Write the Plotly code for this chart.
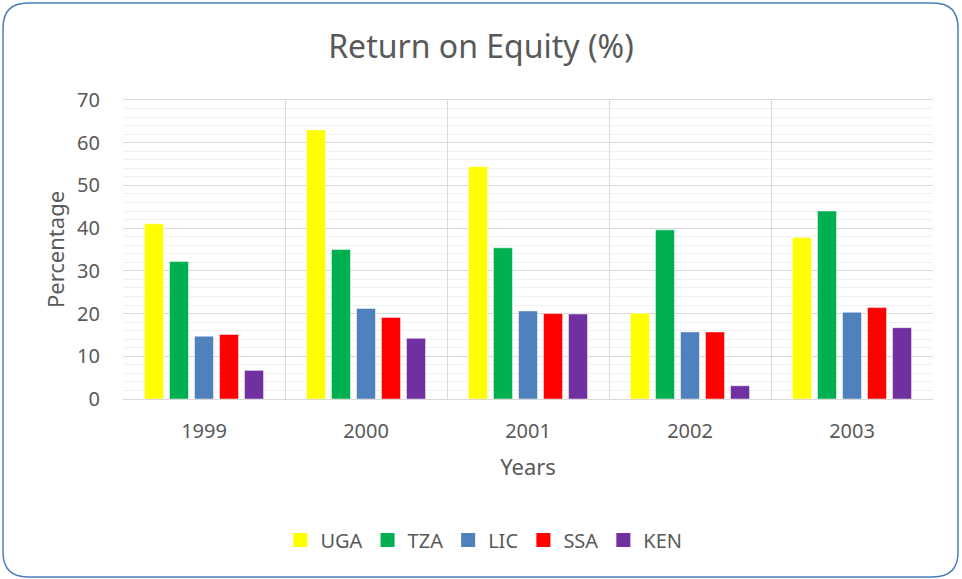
import plotly.graph_objects as go

years = ["1999", "2000", "2001", "2002", "2003"]
UGA = [41.0, 63.0, 54.4, 20.1, 37.8]
TZA = [32.2, 35.0, 35.4, 39.6, 44.0]
LIC = [14.7, 21.2, 20.6, 15.7, 20.3]
SSA = [15.1, 19.1, 20.0, 15.7, 21.4]
KEN = [6.7, 14.2, 19.9, 3.1, 16.7]

series = [("UGA", UGA, "#FFFF00"), ("TZA", TZA, "#00B050"), ("LIC", LIC, "#4F81BD"),
          ("SSA", SSA, "#FF0000"), ("KEN", KEN, "#7030A0")]

W, H = 962, 579
L, R, T, B = 123, 933, 100, 399
FONT = "Noto Sans"
TXT = "#595959"

fig = go.Figure()
for name, vals, col in series:
    fig.add_trace(go.Bar(x=years, y=vals, name=name, marker_color=col, showlegend=False,
                         legendgroup=name,
                         marker_line=dict(width=0.8, color="rgba(255,255,255,0.6)")))
# legend entries with larger square swatches
for name, vals, col in series:
    fig.add_trace(go.Scatter(x=[None], y=[None], mode="markers", name=name,
                             legendgroup=name,
                             marker=dict(symbol="square", size=14, color=col)))

# rounded outer border (in paper coordinates)
def px(x):
    return (x - L) / (R - L)

def py(y):
    return (B - y) / (B - T)

x0, x1, y0, y1, r = 3, 958, 3, 577, 25
path = (f"M {px(x0 + r)} {py(y0)} L {px(x1 - r)} {py(y0)} "
        f"Q {px(x1)} {py(y0)} {px(x1)} {py(y0 + r)} "
        f"L {px(x1)} {py(y1 - r)} Q {px(x1)} {py(y1)} {px(x1 - r)} {py(y1)} "
        f"L {px(x0 + r)} {py(y1)} Q {px(x0)} {py(y1)} {px(x0)} {py(y1 - r)} "
        f"L {px(x0)} {py(y0 + r)} Q {px(x0)} {py(y0)} {px(x0 + r)} {py(y0)} Z")
fig.add_shape(type="path", path=path, xref="paper", yref="paper",
              line=dict(color="#4A7EBB", width=1.5), layer="below")

fig.update_layout(
    width=W, height=H,
    margin=dict(l=L, r=W - R, t=T, b=H - B),
    paper_bgcolor="white", plot_bgcolor="white",
    font=dict(family=FONT, color=TXT),
    barmode="group", bargap=0.228, bargroupgap=0.24,
    title=dict(text="Return on Equity (%)", x=0.5, xanchor="center",
               xref="container", yref="container", y=1 - 47 / H, yanchor="middle",
               font=dict(size=32, color=TXT)),
    legend=dict(orientation="h", xref="container", yref="container",
                x=0.503, xanchor="center", y=1 - 540 / H, yanchor="middle",
                font=dict(size=20, color=TXT), itemwidth=30),
    showlegend=True,
)
fig.update_xaxes(type="category", tickson="boundaries", showgrid=True,
                 gridcolor="#D9D9D9", gridwidth=1.3,
                 showline=True, linecolor="#D9D9D9", linewidth=1.3, mirror=True,
                 ticks="", ticklabelstandoff=14,
                 tickfont=dict(size=20, color=TXT),
                 title=dict(text="Years", font=dict(size=22, color=TXT), standoff=16))
fig.update_yaxes(range=[0, 70], dtick=10, showgrid=True, gridcolor="#D9D9D9",
                 gridwidth=1.3, zeroline=False,
                 minor=dict(dtick=2, showgrid=True, gridcolor="#F0F0F0", gridwidth=1),
                 ticks="outside", ticklen=18, tickcolor="rgba(0,0,0,0)",
                 tickfont=dict(size=20, color=TXT),
                 title=dict(text="Percentage", font=dict(size=22, color=TXT), standoff=6))

fig.write_html("out.html", config={"displayModeBar": False},
               post_script="document.body.style.margin='0';")
